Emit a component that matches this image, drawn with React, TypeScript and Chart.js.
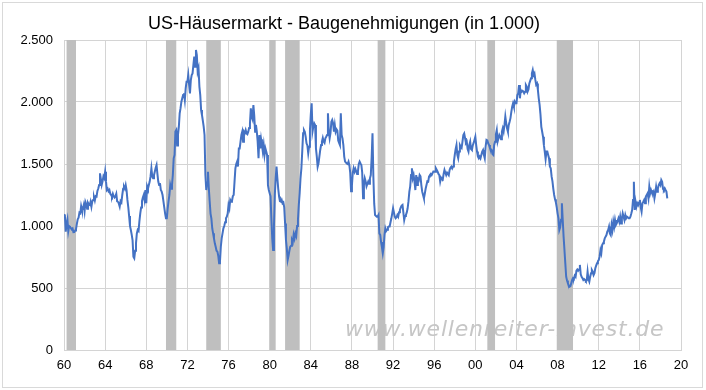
import React, { useEffect, useRef } from "react";
import { Chart, registerables } from "chart.js";

Chart.register(...registerables);

const startYear = 1960;

const permits1960s = [
  1092, 1088, 955, 1016, 1052, 958, 999, 994, 984, 972, 979, 950,
  951, 963, 975, 1017, 1054, 1067, 1108, 1102, 1160, 1128, 1138, 1168,
  1118, 1195, 1177, 1140, 1187, 1174, 1170, 1196, 1156, 1198, 1209, 1233,
  1206, 1241, 1238, 1283, 1302, 1330, 1425, 1380, 1331, 1360, 1400, 1385,
  1438, 1360, 1290, 1300, 1280, 1290, 1260, 1250, 1237, 1260, 1240, 1230,
  1240, 1260, 1200, 1197, 1180, 1156, 1200, 1190, 1250, 1300, 1317, 1300,
  1330, 1290, 1210, 1153, 1080, 1000, 968, 930, 887, 753, 740, 800,
  860, 940, 968, 960, 1040, 1102, 1150, 1200, 1230, 1250, 1210, 1290,
  1183, 1320, 1300, 1330, 1358, 1400, 1465, 1400, 1385, 1410, 1440, 1470,
  1492, 1420, 1358, 1330, 1345, 1290, 1277, 1250, 1200, 1150, 1100, 1062,
];

const permits1970s = [
  1062, 1143, 1200, 1250, 1331, 1300, 1331, 1411, 1546, 1573, 1761, 1774,
  1650, 1734, 1800, 1909, 1950, 2003, 2030, 2056, 2070, 2016, 2110, 2164,
  2164, 2218, 2137, 2070, 2177, 2218, 2231, 2300, 2366, 2285, 2419, 2379,
  2245, 2272, 2124, 2056, 1935, 1895, 1850, 1801, 1734, 1411, 1290, 1350,
  1438, 1304, 1200, 1100, 1060, 980, 941, 900, 860, 833, 800, 793,
  760, 699, 712, 833, 901, 941, 981, 1000, 1030, 1062, 1075, 1100,
  1170, 1143, 1210, 1196, 1200, 1240, 1250, 1358, 1465, 1500, 1519, 1480,
  1626, 1626, 1680, 1734, 1761, 1680, 1761, 1750, 1774, 1747, 1740, 1761,
  1790, 1828, 1949, 1880, 1860, 1976, 1890, 1761, 1815, 1761, 1680, 1546,
  1734, 1626, 1700, 1653, 1600, 1653, 1573, 1626, 1600, 1573, 1330, 1290,
];

const permits1980s = [
  1264, 1240, 1062, 900, 807, 1000, 1250, 1385, 1479, 1385, 1300, 1237,
  1200, 1196, 1210, 1183, 1190, 1150, 1021, 887, 820, 726, 760, 800,
  833, 840, 887, 870, 930, 900, 940, 920, 1000, 1048, 1170, 1264,
  1385, 1465, 1600, 1747, 1774, 1760, 1720, 1667, 1650, 1586, 1640, 1774,
  1900, 1989, 1761, 1801, 1828, 1815, 1626, 1560, 1478, 1505, 1560, 1613,
  1653, 1680, 1710, 1680, 1670, 1707, 1720, 1734, 1909, 1761, 1707, 1750,
  1840, 1855, 1830, 1761, 1815, 1760, 1780, 1770, 1690, 1670, 1653, 1909,
  1734, 1707, 1653, 1560, 1519, 1519, 1505, 1500, 1519, 1490, 1430, 1280,
  1330, 1430, 1465, 1438, 1460, 1440, 1420, 1440, 1500, 1519, 1505, 1492,
  1430, 1223, 1330, 1385, 1360, 1320, 1340, 1358, 1340, 1385, 1411, 1550,
];

const permits1990s = [
  1747, 1400, 1180, 1089, 1089, 1075, 1075, 1089, 940, 928, 870, 830,
  780, 830, 928, 981, 960, 970, 990, 995, 995, 1030, 1062, 1100,
  1143, 1143, 1075, 1062, 1070, 1089, 1075, 1110, 1130, 1150, 1165, 1170,
  1110, 1048, 1080, 1090, 1110, 1143, 1200, 1277, 1320, 1411, 1465, 1385,
  1411, 1360, 1290, 1411, 1330, 1380, 1370, 1411, 1400, 1330, 1277, 1250,
  1223, 1260, 1300, 1330, 1360, 1358, 1400, 1411, 1420, 1411, 1425, 1440,
  1440, 1438, 1465, 1452, 1438, 1420, 1411, 1358, 1390, 1380, 1375, 1420,
  1452, 1430, 1411, 1430, 1420, 1410, 1452, 1470, 1479, 1465, 1480, 1520,
  1573, 1620, 1653, 1573, 1546, 1600, 1653, 1640, 1630, 1680, 1734, 1747,
  1710, 1670, 1680, 1620, 1600, 1653, 1680, 1620, 1613, 1650, 1670, 1694,
];

const permits2000s = [
  1720, 1653, 1600, 1560, 1546, 1560, 1546, 1573, 1600, 1613, 1573, 1546,
  1640, 1694, 1690, 1667, 1653, 1630, 1620, 1613, 1580, 1573, 1653, 1680,
  1740, 1774, 1680, 1707, 1734, 1720, 1700, 1761, 1788, 1761, 1815, 1882,
  1830, 1788, 1761, 1815, 1841, 1870, 1920, 1962, 1989, 1962, 2003, 1990,
  1990, 2056, 2070, 2137, 2030, 2097, 2083, 2090, 2085, 2070, 2083, 2137,
  2124, 2083, 2100, 2150, 2170, 2191, 2231, 2258, 2218, 2231, 2180, 2140,
  2150, 2097, 2030, 1976, 1900, 1800, 1760, 1720, 1653, 1600, 1540, 1600,
  1600, 1573, 1546, 1479, 1465, 1400, 1360, 1300, 1250, 1215, 1190, 1150,
  1100, 1062, 968, 990, 1050, 1183, 1048, 914, 806, 699, 591, 560,
  538, 520, 511, 515, 540, 565, 580, 575, 600, 590, 640, 650,
];

const permits2010s = [
  640, 650, 686, 610, 590, 580, 565, 572, 565, 555, 560, 632,
  570, 551, 591, 618, 645, 632, 605, 620, 659, 680, 699, 715,
  726, 753, 806, 780, 847, 860, 874, 900, 914, 927, 954, 968,
  995, 940, 927, 1008, 968, 1035, 995, 1048, 1008, 1021, 1040, 1062,
  1035, 1075, 1021, 1060, 1102, 1075, 1048, 1089, 1062, 1075, 1070, 1062,
  1062, 1075, 1100, 1129, 1210, 1357, 1130, 1196, 1156, 1183, 1169, 1190,
  1210, 1150, 1116, 1183, 1196, 1210, 1183, 1237, 1250, 1263, 1223, 1317,
  1263, 1290, 1270, 1263, 1277, 1223, 1263, 1317, 1277, 1300, 1330, 1344,
  1330, 1371, 1357, 1300, 1290, 1304, 1290, 1277, 1223,
];

// NBER recessions as decimal years
const recessionStart = [1960.25, 1969.917, 1973.833, 1980.0, 1981.5, 1990.5, 2001.167, 2007.917];
const recessionEnd = [1961.167, 1970.917, 1975.25, 1980.583, 1982.917, 1991.25, 2001.917, 2009.5];

const titleText = "US-Häusermarkt - Baugenehmigungen (in 1.000)";
const watermarkText = "www.wellenreiter-invest.de";

const FONT = "'Liberation Sans', Arial, sans-serif";

function formatThousands(v: number): string {
  const s = Math.round(v).toString();
  return s.replace(/\B(?=(\d{3})+(?!\d))/g, ".");
}

export default function App() {
  const canvasRef = useRef<HTMLCanvasElement | null>(null);

  useEffect(() => {
    if (!canvasRef.current) return;
    const all = [
      ...permits1960s,
      ...permits1970s,
      ...permits1980s,
      ...permits1990s,
      ...permits2000s,
      ...permits2010s,
    ];
    const points = all.map((v, i) => ({ x: startYear + i / 12, y: v }));

    const decorPlugin = {
      id: "decor",
      beforeDraw(chart: any) {
        const ctx = chart.ctx;
        ctx.save();
        ctx.fillStyle = "#ffffff";
        ctx.fillRect(0, 0, chart.width, chart.height);
        ctx.strokeStyle = "#d9d9d9";
        ctx.lineWidth = 1;
        ctx.strokeRect(2.5, 2.5, 700, 385);
        ctx.fillStyle = "#000000";
        ctx.font = `18px ${FONT}`;
        ctx.textAlign = "center";
        ctx.textBaseline = "alphabetic";
        ctx.fillText(titleText, 344, 29);
        ctx.restore();
      },
      beforeDatasetsDraw(chart: any) {
        const ctx = chart.ctx;
        const area = chart.chartArea;
        const xs = chart.scales.x;
        ctx.save();
        // watermark
        ctx.fillStyle = "#c6c6c6";
        ctx.font = `italic 22px 'DejaVu Sans', Verdana, sans-serif`;
        (ctx as any).letterSpacing = "0.8px";
        ctx.textAlign = "left";
        ctx.textBaseline = "alphabetic";
        ctx.fillText(watermarkText, 345, 336);
        (ctx as any).letterSpacing = "0px";
        // recession bars
        ctx.fillStyle = "#bfbfbf";
        for (let i = 0; i < recessionStart.length; i++) {
          const x0 = xs.getPixelForValue(recessionStart[i]);
          const x1 = xs.getPixelForValue(recessionEnd[i]);
          ctx.fillRect(x0, area.top, x1 - x0, area.bottom - area.top);
        }
        ctx.restore();
      },
    };

    const chart = new Chart(canvasRef.current, {
      type: "line",
      data: {
        datasets: [
          {
            data: points,
            borderColor: "#4472c4",
            borderWidth: 2,
            pointRadius: 0,
            tension: 0,
            fill: false,
          },
        ],
      },
      options: {
        animation: false,
        responsive: false,
        devicePixelRatio: 1,
        events: [],
        layout: { padding: { left: 0, right: 25, top: 40, bottom: 0 } },
        plugins: {
          legend: { display: false },
          tooltip: { enabled: false },
          title: { display: false },
        },
        scales: {
          x: {
            type: "linear",
            min: 1960,
            max: 2020,
            afterFit: (s: any) => {
              s.height = 40;
            },
            ticks: {
              stepSize: 4,
              autoSkip: false,
              maxRotation: 0,
              padding: 8,
              color: "#000000",
              font: { family: FONT, size: 13 },
              callback: (v: any) => String(Number(v) % 100).padStart(2, "0"),
            },
            grid: { color: "#d4d4d4", lineWidth: 1, drawTicks: false },
            border: { color: "#d4d4d4" },
          },
          y: {
            min: 0,
            max: 2500,
            afterFit: (s: any) => {
              s.width = 64;
            },
            ticks: {
              stepSize: 500,
              padding: 11,
              color: "#000000",
              font: { family: FONT, size: 13 },
              callback: (v: any) => formatThousands(Number(v)),
            },
            grid: { color: "#d4d4d4", lineWidth: 1, drawTicks: false },
            border: { color: "#d4d4d4" },
          },
        },
      },
      plugins: [decorPlugin],
    });
    return () => chart.destroy();
  }, []);

  return (
    <div style={{ position: "fixed", left: 0, top: 0, width: 706, height: 390, background: "#fff" }}>
      <canvas ref={canvasRef} width={706} height={390} style={{ display: "block" }} />
    </div>
  );
}
